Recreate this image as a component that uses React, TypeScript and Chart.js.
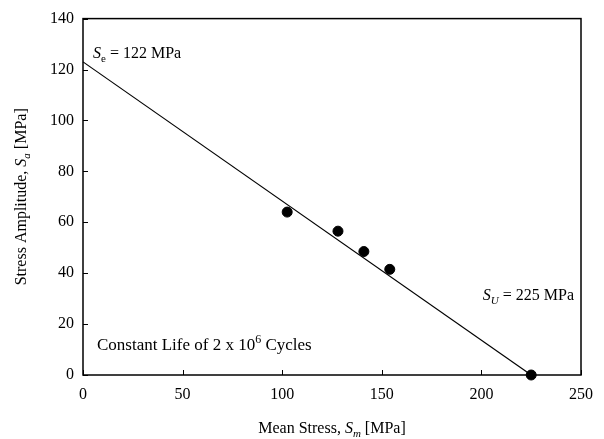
import { useEffect, useRef } from 'react';
import { Chart, registerables } from 'chart.js';

Chart.register(...registerables);

// ---- Data ----
const meanStress = [102.5, 128, 141, 154, 225];
const stressAmplitude = [64, 56.5, 48.5, 41.5, 0];
const goodmanLineX = [0, 225];
const goodmanLineY = [123, 0];
const xTickValues = [0, 50, 100, 150, 200, 250];
const yTickValues = [0, 20, 40, 60, 80, 100, 120, 140];

const FAM = '"Liberation Serif", "Times New Roman", Times, serif';

type Seg = { t: string; i?: boolean; sub?: boolean; sup?: boolean };

function drawRich(
  ctx: CanvasRenderingContext2D,
  segs: Seg[],
  x: number,
  y: number,
  align: 'left' | 'center' | 'right',
  size = 16
) {
  const fontOf = (s: Seg) =>
    `${s.i ? 'italic ' : ''}${s.sub || s.sup ? Math.round(size * 0.68) : size}px ${FAM}`;
  let w = 0;
  for (const s of segs) {
    ctx.font = fontOf(s);
    w += ctx.measureText(s.t).width;
  }
  let cx = align === 'left' ? x : align === 'center' ? x - w / 2 : x - w;
  ctx.textAlign = 'left';
  ctx.textBaseline = 'alphabetic';
  ctx.fillStyle = '#000';
  for (const s of segs) {
    ctx.font = fontOf(s);
    const dy = s.sub ? size * 0.28 : s.sup ? -size * 0.42 : 0;
    ctx.fillText(s.t, cx, y + dy);
    cx += ctx.measureText(s.t).width;
  }
}

const decorPlugin = {
  id: 'decor',
  afterDraw(chart: any) {
    const ctx: CanvasRenderingContext2D = chart.ctx;
    const { left, right, top, bottom } = chart.chartArea;
    const xs = chart.scales.x;
    const ys = chart.scales.y;
    ctx.save();
    // frame
    ctx.strokeStyle = '#000';
    ctx.lineWidth = 1.5;
    ctx.strokeRect(left, top, right - left, bottom - top);
    // inward ticks
    ctx.lineWidth = 1;
    ctx.beginPath();
    for (const v of xTickValues) {
      const px = Math.round(xs.getPixelForValue(v)) + 0.5;
      ctx.moveTo(px, bottom);
      ctx.lineTo(px, bottom - 5);
    }
    for (const v of yTickValues) {
      const py = Math.round(ys.getPixelForValue(v)) + 0.5;
      ctx.moveTo(left, py);
      ctx.lineTo(left + 5, py);
    }
    ctx.stroke();

    // annotations
    drawRich(ctx, [{ t: 'S', i: true }, { t: 'e', sub: true }, { t: ' = 122 MPa' }], left + 10, top + 39, 'left');
    drawRich(ctx, [{ t: 'S', i: true }, { t: 'U', i: true, sub: true }, { t: ' = 225 MPa' }], right - 7, 300, 'right');
    drawRich(
      ctx,
      [{ t: 'Constant Life of 2 x 10' }, { t: '6', sup: true }, { t: ' Cycles' }],
      left + 14,
      350,
      'left',
      17
    );

    // axis titles
    drawRich(
      ctx,
      [{ t: 'Mean Stress, ' }, { t: 'S', i: true }, { t: 'm', i: true, sub: true }, { t: ' [MPa]' }],
      (left + right) / 2,
      433,
      'center'
    );
    ctx.translate(20, (top + bottom) / 2);
    ctx.rotate(-Math.PI / 2);
    drawRich(
      ctx,
      [{ t: 'Stress Amplitude, ' }, { t: 'S', i: true }, { t: 'a', i: true, sub: true }, { t: ' [MPa]' }],
      0,
      5.5,
      'center'
    );
    ctx.restore();
  },
};

export default function App() {
  const ref = useRef<HTMLCanvasElement>(null);

  useEffect(() => {
    document.body.style.margin = '0';
    if (!ref.current) return;
    const chart = new Chart(ref.current, {
      type: 'scatter',
      data: {
        datasets: [
          {
            type: 'line',
            label: 'Goodman line',
            data: goodmanLineX.map((x, i) => ({ x, y: goodmanLineY[i] })),
            borderColor: '#000',
            borderWidth: 1.2,
            pointRadius: 0,
            fill: false,
            clip: false as any,
          },
          {
            type: 'scatter',
            label: 'Data',
            data: meanStress.map((x, i) => ({ x, y: stressAmplitude[i] })),
            backgroundColor: '#000',
            borderColor: '#000',
            pointRadius: 5,
            pointHoverRadius: 5,
            clip: false as any,
          },
        ],
      },
      options: {
        animation: false,
        responsive: false,
        maintainAspectRatio: false,
        events: [],
        layout: { padding: { left: 0, right: 23, top: 15, bottom: 0 } },
        plugins: {
          legend: { display: false },
          tooltip: { enabled: false },
          title: { display: false },
        },
        scales: {
          x: {
            type: 'linear',
            min: 0,
            max: 250,
            afterFit: (s: any) => {
              s.height = 64;
            },
            afterBuildTicks: (s: any) => {
              s.ticks = xTickValues.map((v) => ({ value: v }));
            },
            grid: { display: false, drawTicks: false },
            border: { display: false },
            ticks: {
              color: '#000',
              padding: 10,
              maxRotation: 0,
              font: { family: FAM, size: 16 },
            },
          },
          y: {
            type: 'linear',
            min: 0,
            max: 140,
            afterFit: (s: any) => {
              s.width = 83;
            },
            afterBuildTicks: (s: any) => {
              s.ticks = yTickValues.map((v) => ({ value: v }));
            },
            grid: { display: false, drawTicks: false },
            border: { display: false },
            ticks: {
              color: '#000',
              padding: 9,
              font: { family: FAM, size: 16 },
            },
          },
        },
      },
      plugins: [decorPlugin],
    });
    return () => chart.destroy();
  }, []);

  return (
    <div style={{ width: 604, height: 439 }}>
      <canvas ref={ref} width={604} height={439} style={{ display: 'block' }} />
    </div>
  );
}
